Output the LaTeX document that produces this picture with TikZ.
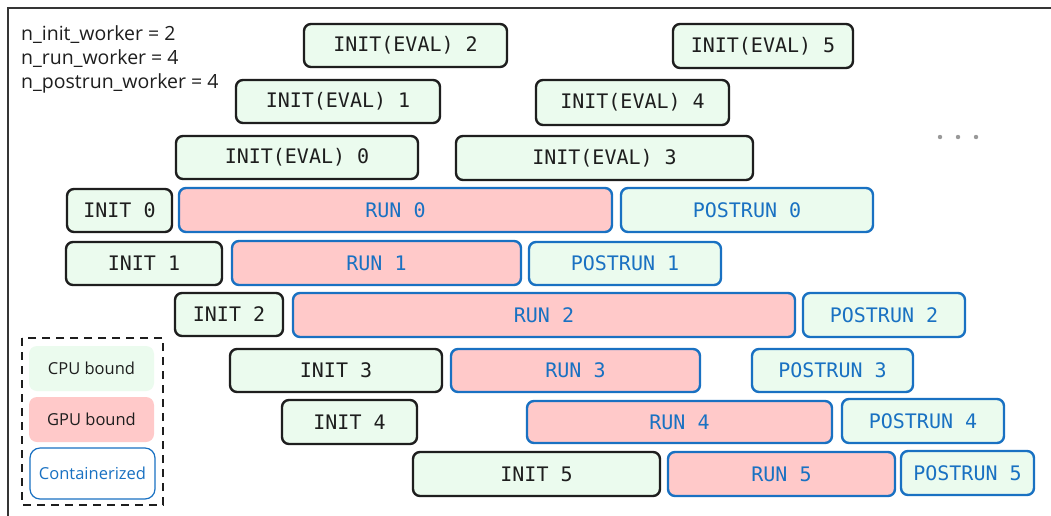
\documentclass[tikz,border=0pt]{standalone}
\usepackage{fontspec}
\setmainfont{Open Sans}
\setmonofont{DejaVu Sans Mono}
\definecolor{cpugreen}{HTML}{EBFBEE}
\definecolor{gpupink}{HTML}{FFC9C9}
\definecolor{cblue}{HTML}{1971C2}
\definecolor{cblack}{HTML}{1E1E1E}
\newcommand{\taskbox}[7]{%
  \pgfmathsetmacro\tbcx{(#3+#5)/2}%
  \pgfmathsetmacro\tbcy{(#4+#6)/2}%
  \pgfmathsetmacro\tbw{#5-#3}%
  \pgfmathsetmacro\tbh{#6-#4}%
  \node[#2, minimum width=\tbw pt, minimum height=\tbh pt] (#1) at (\tbcx,\tbcy) {#7};}
\begin{document}
\begin{tikzpicture}[x=1pt,y=-1pt,
  base/.style={rounded corners=7pt, line width=2.4pt, inner sep=0pt,
    font=\fontsize{20}{23}\selectfont\ttfamily},
  cpu/.style={base, fill=cpugreen, draw=cblack, text=cblack},
  gpu/.style={base, fill=gpupink, draw=cblue, text=cblue},
  post/.style={base, fill=cpugreen, draw=cblue, text=cblue},
  legtxt/.style={font=\fontsize{16.5}{19}\selectfont},
  hdr/.style={font=\fontsize{19.5}{22}\selectfont, text=cblack, anchor=west, inner sep=0pt}]
\fill[white] (0,0) rectangle (1051,515);
\useasboundingbox (0,0) rectangle (1051,515);
\clip (0,0) rectangle (1051,515);
% outer frame
\draw[line width=2pt, draw=cblack!90] (8,8) rectangle (1070,540);
% header text
\node[hdr] (h1) at (21,35) {n\_init\_worker = 2};
\node[hdr] (h2) at (21,59) {n\_run\_worker = 4};
\node[hdr] (h3) at (21,83) {n\_postrun\_worker = 4};
% init(eval)
\taskbox{e2}{cpu}{304}{24}{507}{67}{INIT(EVAL) 2}
\taskbox{e5}{cpu}{673}{24}{853}{68}{INIT(EVAL) 5}
\taskbox{e1}{cpu}{236}{80}{440}{123}{INIT(EVAL) 1}
\taskbox{e4}{cpu}{536}{80}{729}{125}{INIT(EVAL) 4}
\taskbox{e0}{cpu}{176}{136}{418}{179}{INIT(EVAL) 0}
\taskbox{e3}{cpu}{456}{136}{753}{180}{INIT(EVAL) 3}
% dots
\foreach \dx/\nm in {940/d1,958/d2,976/d3}
  \fill[gray!80] (\dx,137) circle (2.2pt) coordinate (\nm);
% row 0
\taskbox{i0}{cpu}{67}{189}{172}{232}{INIT 0}
\taskbox{r0}{gpu}{179}{188}{612}{232}{RUN 0}
\taskbox{p0}{post}{621}{188}{873}{232}{POSTRUN 0}
% row 1
\taskbox{i1}{cpu}{66}{242}{222}{285}{INIT 1}
\taskbox{r1}{gpu}{232}{241}{521}{285}{RUN 1}
\taskbox{p1}{post}{529}{242}{721}{285}{POSTRUN 1}
% row 2
\taskbox{i2}{cpu}{175}{293}{283}{336}{INIT 2}
\taskbox{r2}{gpu}{293}{293}{795}{337}{RUN 2}
\taskbox{p2}{post}{803}{293}{965}{337}{POSTRUN 2}
% row 3
\taskbox{i3}{cpu}{230}{349}{442}{392}{INIT 3}
\taskbox{r3}{gpu}{451}{349}{700}{392}{RUN 3}
\taskbox{p3}{post}{752}{349}{913}{392}{POSTRUN 3}
% row 4
\taskbox{i4}{cpu}{282}{400}{417}{444}{INIT 4}
\taskbox{r4}{gpu}{527}{401}{832}{443}{RUN 4}
\taskbox{p4}{post}{842}{399}{1004}{443}{POSTRUN 4}
% row 5
\taskbox{i5}{cpu}{413}{452}{660}{496}{INIT 5}
\taskbox{r5}{gpu}{668}{452}{895}{496}{RUN 5}
\taskbox{p5}{post}{901}{451}{1034}{495}{POSTRUN 5}
% legend
\draw[line width=2pt, draw=cblack, dash pattern=on 8pt off 6pt] (22,338) rectangle (163,505);
\taskbox{lcpu}{legtxt, fill=cpugreen, rounded corners=8pt, text=cblack}{29}{346}{154}{391}{CPU bound}
\taskbox{lgpu}{legtxt, fill=gpupink, rounded corners=8pt, text=cblack}{29}{397}{154}{442}{GPU bound}
\taskbox{lcon}{legtxt, fill=white, draw=cblue, line width=1.2pt, rounded corners=10pt, text=cblue}{30}{448}{155}{499}{Containerized}
\end{tikzpicture}
\end{document}
